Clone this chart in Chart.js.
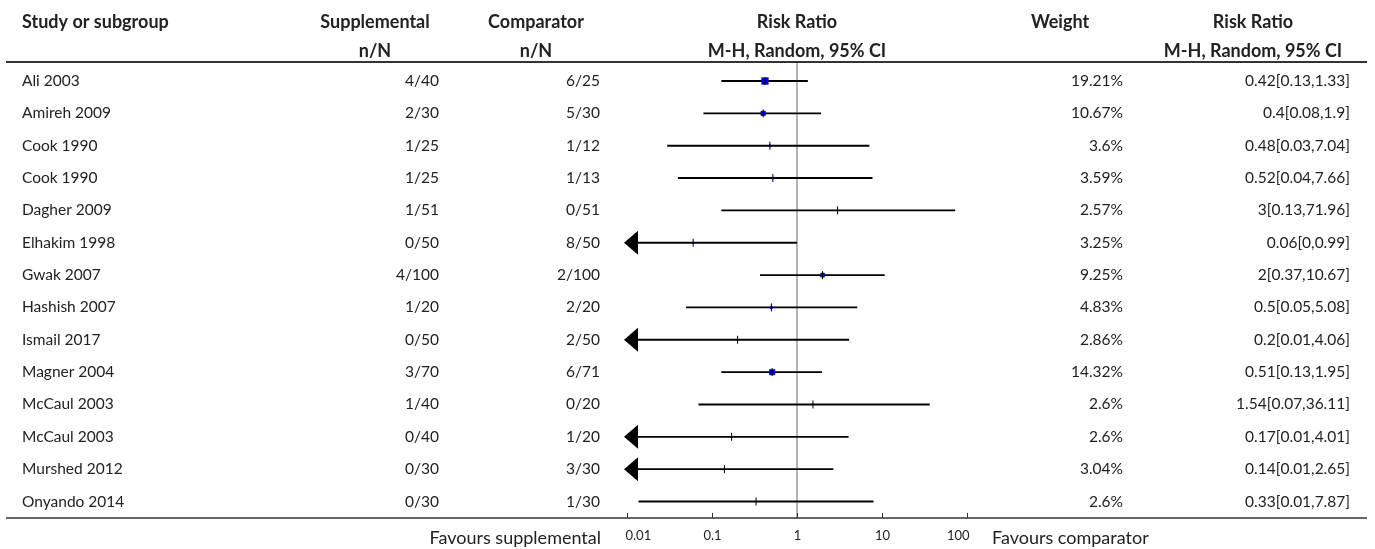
<!DOCTYPE html>
<html>
<head>
<meta charset="utf-8">
<title>Forest plot</title>
<script src="https://cdn.jsdelivr.net/npm/chart.js@4.4.1/dist/chart.umd.min.js"></script>
<style>
  html, body { margin: 0; padding: 0; background: #ffffff; }
  #wrap { position: relative; width: 1375px; height: 549px; }
</style>
</head>
<body>
<div id="wrap"><canvas id="forest"></canvas></div>
<script>
// Study rows, top to bottom
const studies = [
  "Ali 2003", "Amireh 2009", "Cook 1990", "Cook 1990", "Dagher 2009",
  "Elhakim 1998", "Gwak 2007", "Hashish 2007", "Ismail 2017", "Magner 2004",
  "McCaul 2003", "McCaul 2003", "Murshed 2012", "Onyando 2014"
];
const supplemental = ["4/40", "2/30", "1/25", "1/25", "1/51", "0/50", "4/100", "1/20", "0/50", "3/70", "1/40", "0/40", "0/30", "0/30"];
const comparator = ["6/25", "5/30", "1/12", "1/13", "0/51", "8/50", "2/100", "2/20", "2/50", "6/71", "0/20", "1/20", "3/30", "1/30"];

// Risk ratio and 95% CI bounds
const riskRatio = [0.42, 0.4, 0.48, 0.52, 3, 0.06, 2, 0.5, 0.2, 0.51, 1.54, 0.17, 0.14, 0.33];
const ciLow = [0.13, 0.08, 0.03, 0.04, 0.13, 0.004, 0.37, 0.05, 0.0098, 0.13, 0.07, 0.0072, 0.0075, 0.0138];
const ciHigh = [1.33, 1.9, 7.04, 7.66, 71.96, 0.99, 10.67, 5.08, 4.06, 1.95, 36.11, 4.01, 2.65, 7.87];
const weights = [19.21, 10.67, 3.6, 3.59, 2.57, 3.25, 9.25, 4.83, 2.86, 14.32, 2.6, 2.6, 3.04, 2.6];

const axisTicks = [0.01, 0.1, 1, 10, 100];
const axisTickLabels = ["0.01", "0.1", "1", "10", "100"];

const FONT = "Lato, 'Liberation Sans', sans-serif";
const TEXT = "#222222";

// drop trailing zeros the way the table prints them
const fmt = (v) => String(Number(v.toFixed(2)));

// square side grows with study weight
const markerRadius = (w) => Math.max(0, 2 * Math.sqrt(w) - 2) / Math.SQRT2;

const rows = studies.map((_, i) => i);

/**
 * Table text, rules, axis ticks and truncation arrows
 */
const forestTable = {
  id: "forestTable",
  beforeDatasetsDraw(chart) {
    const { ctx, chartArea, scales } = chart;
    const x1 = scales.x.getPixelForValue(1);
    ctx.save();
    ctx.strokeStyle = "#9a9a9a";
    ctx.lineWidth = 1.5;
    ctx.beginPath();
    ctx.moveTo(x1, chartArea.top);
    ctx.lineTo(x1, chartArea.bottom);
    ctx.stroke();
    ctx.restore();
  },
  afterDraw(chart) {
    const { ctx, chartArea, scales } = chart;
    const x = scales.x;
    const y = scales.y;
    ctx.save();

    // header
    ctx.fillStyle = TEXT;
    ctx.font = `bold 18px ${FONT}`;
    ctx.textBaseline = "middle";
    ctx.textAlign = "left";
    ctx.fillText("Study or subgroup", 22, 22);
    ctx.textAlign = "center";
    ctx.fillText("Supplemental", 375, 22);
    ctx.fillText("n/N", 375, 51);
    ctx.fillText("Comparator", 536, 22);
    ctx.fillText("n/N", 536, 51);
    const midX = x.getPixelForValue(1);
    ctx.fillText("Risk Ratio", midX, 22);
    ctx.fillText("M-H, Random, 95% CI", midX, 51);
    ctx.fillText("Weight", 1060, 22);
    ctx.fillText("Risk Ratio", 1253, 22);
    ctx.fillText("M-H, Random, 95% CI", 1253, 51);

    // rules above and below the rows
    ctx.strokeStyle = "#333333";
    ctx.lineWidth = 2;
    ctx.beginPath();
    ctx.moveTo(6, chartArea.top);
    ctx.lineTo(1367, chartArea.top);
    ctx.stroke();
    ctx.lineWidth = 1.5;
    ctx.beginPath();
    ctx.moveTo(6, chartArea.bottom);
    ctx.lineTo(1367, chartArea.bottom);
    ctx.stroke();

    // rows
    ctx.font = `15.5px ${FONT}`;
    rows.forEach((i) => {
      const py = y.getPixelForValue(i);
      ctx.textAlign = "left";
      ctx.fillText(studies[i], 22, py);
      ctx.textAlign = "right";
      ctx.fillText(supplemental[i], 439, py);
      ctx.fillText(comparator[i], 600, py);
      ctx.fillText(weights[i] + "%", 1123, py);
      ctx.fillText(`${fmt(riskRatio[i])}[${fmt(ciLow[i])},${fmt(ciHigh[i])}]`, 1350, py);

      // CI runs off the left edge of the axis
      if (ciLow[i] < x.min) {
        const tip = x.getPixelForValue(x.min) - 3;
        ctx.fillStyle = "#000000";
        ctx.beginPath();
        ctx.moveTo(tip, py);
        ctx.lineTo(tip + 14, py - 12);
        ctx.lineTo(tip + 14, py + 12);
        ctx.closePath();
        ctx.fill();
        ctx.fillStyle = TEXT;
      }
    });

    // log axis ticks and labels
    ctx.strokeStyle = "#333333";
    ctx.lineWidth = 1;
    ctx.font = `13px ${FONT}`;
    axisTicks.forEach((t, k) => {
      const px = Math.round(x.getPixelForValue(t)) + 0.5;
      ctx.beginPath();
      ctx.moveTo(px, chartArea.bottom);
      ctx.lineTo(px, chartArea.bottom - 5);
      ctx.stroke();
      ctx.textAlign = k === 0 ? "left" : k === axisTicks.length - 1 ? "right" : "center";
      ctx.fillText(axisTickLabels[k], px + (k === 0 ? -2 : k === axisTicks.length - 1 ? 2 : 0), chartArea.bottom + 18);
    });

    ctx.font = `18px ${FONT}`;
    ctx.textAlign = "right";
    ctx.fillText("Favours supplemental", 601, chartArea.bottom + 20);
    ctx.textAlign = "left";
    ctx.fillText("Favours comparator", 992, chartArea.bottom + 20);

    ctx.restore();
  },
};

new Chart(document.getElementById("forest"), {
  type: "scatter",
  data: {
    datasets: [
      {
        // point estimate tick
        type: "scatter",
        data: rows.map((i) => ({ x: riskRatio[i], y: i })),
        pointStyle: "line",
        rotation: 90,
        radius: 4,
        borderColor: "#000000",
        borderWidth: 1,
        order: 0,
      },
      {
        // weighted square
        type: "scatter",
        data: rows.map((i) => ({ x: riskRatio[i], y: i })),
        pointStyle: "rect",
        radius: (c) => markerRadius(weights[c.dataIndex]),
        backgroundColor: "#0000ee",
        borderColor: "#000080",
        borderWidth: 0.5,
        order: 1,
      },
      {
        // confidence interval
        type: "bar",
        indexAxis: "y",
        data: rows.map((i) => ({ x: [ciLow[i], ciHigh[i]], y: i })),
        backgroundColor: "#000000",
        barThickness: 1.2,
        order: 2,
      },
    ],
  },
  options: {
    responsive: true,
    maintainAspectRatio: false,
    devicePixelRatio: 1,
    animation: false,
    layout: { padding: { left: 627, right: 408, top: 62, bottom: 31 } },
    plugins: {
      legend: { display: false },
      tooltip: { enabled: false },
    },
    scales: {
      x: {
        type: "logarithmic",
        display: false,
        min: 0.01,
        max: 100,
      },
      y: {
        type: "linear",
        display: false,
        reverse: true,
        offset: false,
        min: -0.588,
        max: 13.51,
      },
    },
  },
  plugins: [forestTable],
});
</script>
</body>
</html>
